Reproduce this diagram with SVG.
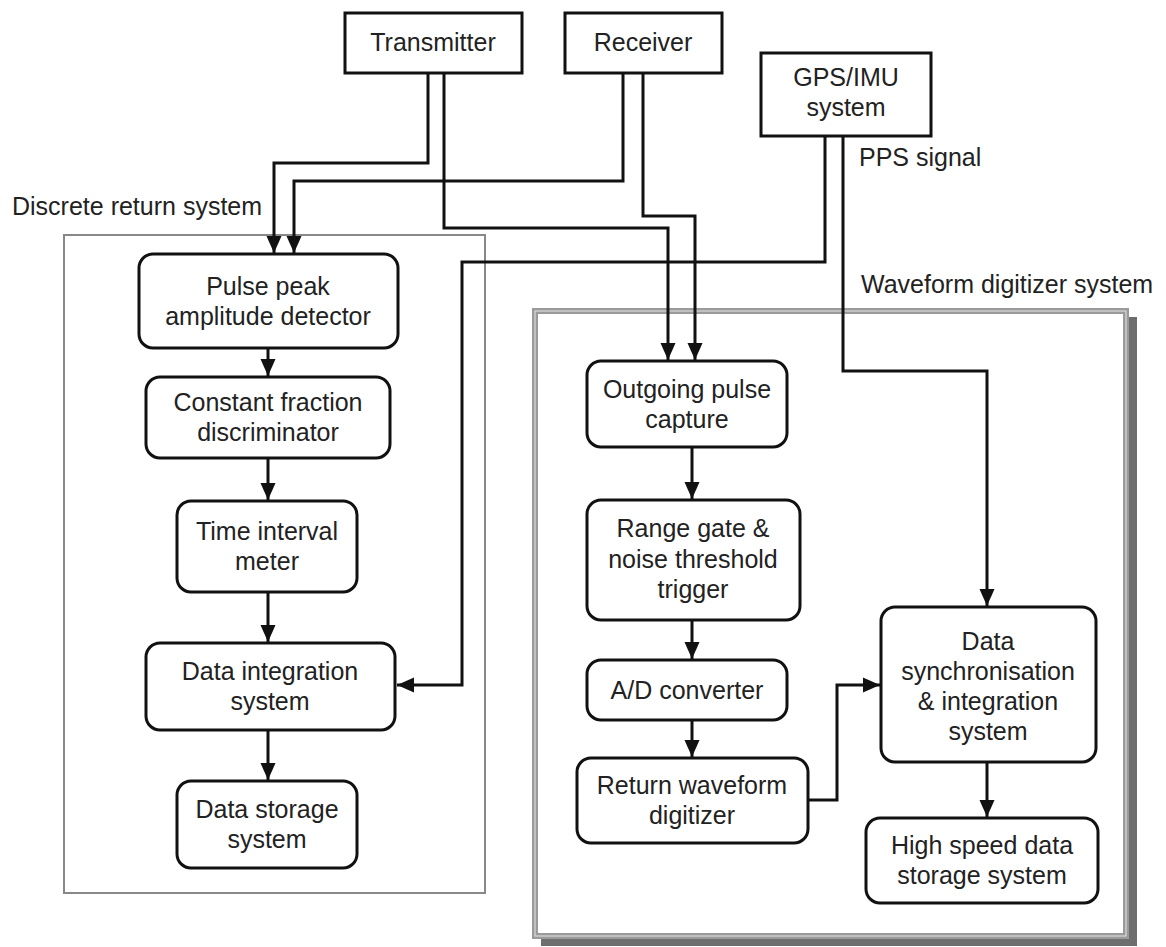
<svg xmlns="http://www.w3.org/2000/svg" width="1166" height="947" viewBox="0 0 1166 947">
<style>
text{font-family:"Liberation Sans",Arial,sans-serif;font-size:25px;fill:#222;text-anchor:middle}
.lbl{text-anchor:start}
.box{fill:#fff;stroke:#111;stroke-width:3}
.c{fill:none;stroke:#111;stroke-width:3}
</style>
<defs>
<marker id="ah" markerUnits="userSpaceOnUse" markerWidth="18" markerHeight="18" viewBox="0 0 18 18" refX="17" refY="9" orient="auto">
<path d="M0,1.5 L17,9 L0,16.5 Z" fill="#111"/>
</marker>
</defs>
<g id="frames">
<rect x="541" y="317" width="596" height="629" fill="#6e6e6e"/>
<rect x="535" y="311" width="591" height="625" fill="#fff" stroke="#9a9a9a" stroke-width="6"/>
<rect x="535" y="311" width="591" height="625" fill="none" stroke="#e6e6e6" stroke-width="1"/>
<rect x="64" y="235" width="421" height="658" fill="none" stroke="#888" stroke-width="2"/>
</g>
<g id="labels">
<text class="lbl" x="12" y="215">Discrete return system</text>
<text class="lbl" x="859" y="166">PPS signal</text>
<text class="lbl" x="861" y="293">Waveform digitizer system</text>
</g>
<g id="connectors">
<path class="c" d="M428,73 V163 H274 V253" marker-end="url(#ah)"/>
<path class="c" d="M623,73 V181 H294 V253" marker-end="url(#ah)"/>
<path class="c" d="M444,73 V228 H668 V360" marker-end="url(#ah)"/>
<path class="c" d="M643,73 V216 H695 V360" marker-end="url(#ah)"/>
<path class="c" d="M825,136 V262 H462 V685 H397" marker-end="url(#ah)"/>
<path class="c" d="M843,136 V371 H987 V606" marker-end="url(#ah)"/>
<path class="c" d="M268,348 V376" marker-end="url(#ah)"/>
<path class="c" d="M268,458 V500" marker-end="url(#ah)"/>
<path class="c" d="M268,592 V642" marker-end="url(#ah)"/>
<path class="c" d="M268,730 V780" marker-end="url(#ah)"/>
<path class="c" d="M692,447 V499" marker-end="url(#ah)"/>
<path class="c" d="M692,620 V659" marker-end="url(#ah)"/>
<path class="c" d="M692,720 V757" marker-end="url(#ah)"/>
<path class="c" d="M808,800 H837 V685 H880" marker-end="url(#ah)"/>
<path class="c" d="M987,762 V817" marker-end="url(#ah)"/>
</g>
<g id="transmitter"><rect class="box" x="345" y="13" width="177" height="60"/><text x="433" y="51">Transmitter</text></g>
<g id="receiver"><rect class="box" x="565" y="13" width="157" height="60"/><text x="643" y="51">Receiver</text></g>
<g id="gps"><rect class="box" x="761" y="53" width="170" height="83"/><text x="846" y="86">GPS/IMU</text><text x="846" y="116">system</text></g>
<g id="pulse-peak"><rect class="box" x="139" y="254" width="259" height="94" rx="14"/><text x="268" y="295">Pulse peak</text><text x="268" y="325">amplitude detector</text></g>
<g id="cfd"><rect class="box" x="146" y="377" width="244" height="81" rx="14"/><text x="268" y="411">Constant fraction</text><text x="268" y="441">discriminator</text></g>
<g id="tim"><rect class="box" x="177" y="501" width="180" height="91" rx="14"/><text x="267" y="540">Time interval</text><text x="267" y="570">meter</text></g>
<g id="dis"><rect class="box" x="146" y="643" width="249" height="87" rx="14"/><text x="270" y="680">Data integration</text><text x="270" y="710">system</text></g>
<g id="dss"><rect class="box" x="177" y="781" width="180" height="87" rx="14"/><text x="267" y="818">Data storage</text><text x="267" y="848">system</text></g>
<g id="opc"><rect class="box" x="587" y="361" width="200" height="86" rx="14"/><text x="687" y="398">Outgoing pulse</text><text x="687" y="428">capture</text></g>
<g id="range-gate"><rect class="box" x="587" y="500" width="213" height="120" rx="14"/><text x="693" y="537">Range gate &amp;</text><text x="693" y="568">noise threshold</text><text x="693" y="598">trigger</text></g>
<g id="ad"><rect class="box" x="587" y="660" width="200" height="60" rx="14"/><text x="687" y="699">A/D converter</text></g>
<g id="rwd"><rect class="box" x="577" y="758" width="231" height="85" rx="14"/><text x="692" y="794">Return waveform</text><text x="692" y="824">digitizer</text></g>
<g id="dsi"><rect class="box" x="881" y="607" width="215" height="155" rx="14"/><text x="988" y="650">Data</text><text x="988" y="680">synchronisation</text><text x="988" y="710">&amp; integration</text><text x="988" y="740">system</text></g>
<g id="hs"><rect class="box" x="866" y="818" width="232" height="85" rx="14"/><text x="982" y="854">High speed data</text><text x="982" y="884">storage system</text></g>
</svg>
